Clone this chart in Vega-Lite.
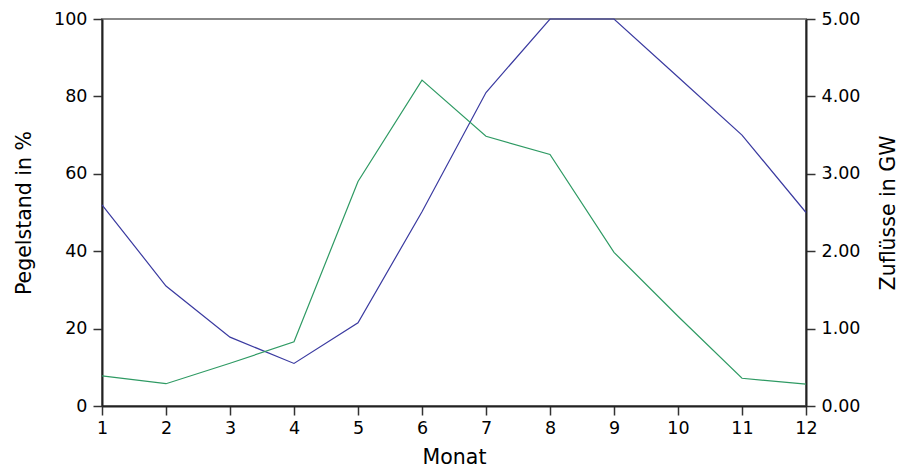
{
  "$schema": "https://vega.github.io/schema/vega-lite/v6.json",
  "autosize": "none",
  "width": 704,
  "height": 387,
  "padding": {"left": 102, "top": 19, "right": 93, "bottom": 63},
  "background": "white",
  "config": {
    "view": {"stroke": "#888888", "strokeWidth": 2},
    "font": "DejaVu Sans",
    "axis": {
      "labelFont": "DejaVu Sans",
      "titleFont": "DejaVu Sans",
      "labelFontSize": 17.5,
      "titleFontSize": 20.5,
      "titleFontWeight": "normal",
      "labelColor": "#000000",
      "titleColor": "#000000",
      "domainColor": "#222222",
      "domainWidth": 2,
      "tickColor": "#333333",
      "tickWidth": 1.5,
      "tickSize": 9,
      "labelPadding": 6,
      "labelFlush": false,
      "grid": false
    }
  },
  "data": {
    "values": [
      {"Monat": 1, "Pegelstand": 52, "Zufluss": 0.39},
      {"Monat": 2, "Pegelstand": 31, "Zufluss": 0.288},
      {"Monat": 3, "Pegelstand": 17.8, "Zufluss": 0.552},
      {"Monat": 4, "Pegelstand": 11, "Zufluss": 0.83},
      {"Monat": 5, "Pegelstand": 21.5, "Zufluss": 2.9},
      {"Monat": 6, "Pegelstand": 50.2, "Zufluss": 4.21},
      {"Monat": 7, "Pegelstand": 81, "Zufluss": 3.485},
      {"Monat": 8, "Pegelstand": 100, "Zufluss": 3.25},
      {"Monat": 9, "Pegelstand": 100, "Zufluss": 1.985},
      {"Monat": 10, "Pegelstand": 85, "Zufluss": 1.16},
      {"Monat": 11, "Pegelstand": 70, "Zufluss": 0.358},
      {"Monat": 12, "Pegelstand": 50, "Zufluss": 0.282}
    ]
  },
  "encoding": {
    "x": {
      "field": "Monat",
      "type": "quantitative",
      "scale": {"domain": [1, 12], "nice": false},
      "axis": {"values": [1,2,3,4,5,6,7,8,9,10,11,12], "title": "Monat", "titlePadding": 11, "labelPadding": 4}
    }
  },
  "layer": [
    {
      "mark": {"type": "line", "color": "#3a3aa0", "strokeWidth": 1.2},
      "encoding": {
        "y": {
          "field": "Pegelstand",
          "type": "quantitative",
          "scale": {"domain": [0, 100], "nice": false},
          "axis": {"orient": "left", "values": [0,20,40,60,80,100], "title": "Pegelstand in %", "titlePadding": 19}
        }
      }
    },
    {
      "mark": {"type": "line", "color": "#2e9a63", "strokeWidth": 1.2},
      "encoding": {
        "y": {
          "field": "Zufluss",
          "type": "quantitative",
          "scale": {"domain": [0, 5], "nice": false},
          "axis": {"orient": "right", "values": [0,1,2,3,4,5], "format": ".2f", "title": "Zuflüsse in GW", "titleAngle": 270, "titlePadding": 39}
        }
      }
    }
  ],
  "resolve": {"scale": {"y": "independent"}}
}
